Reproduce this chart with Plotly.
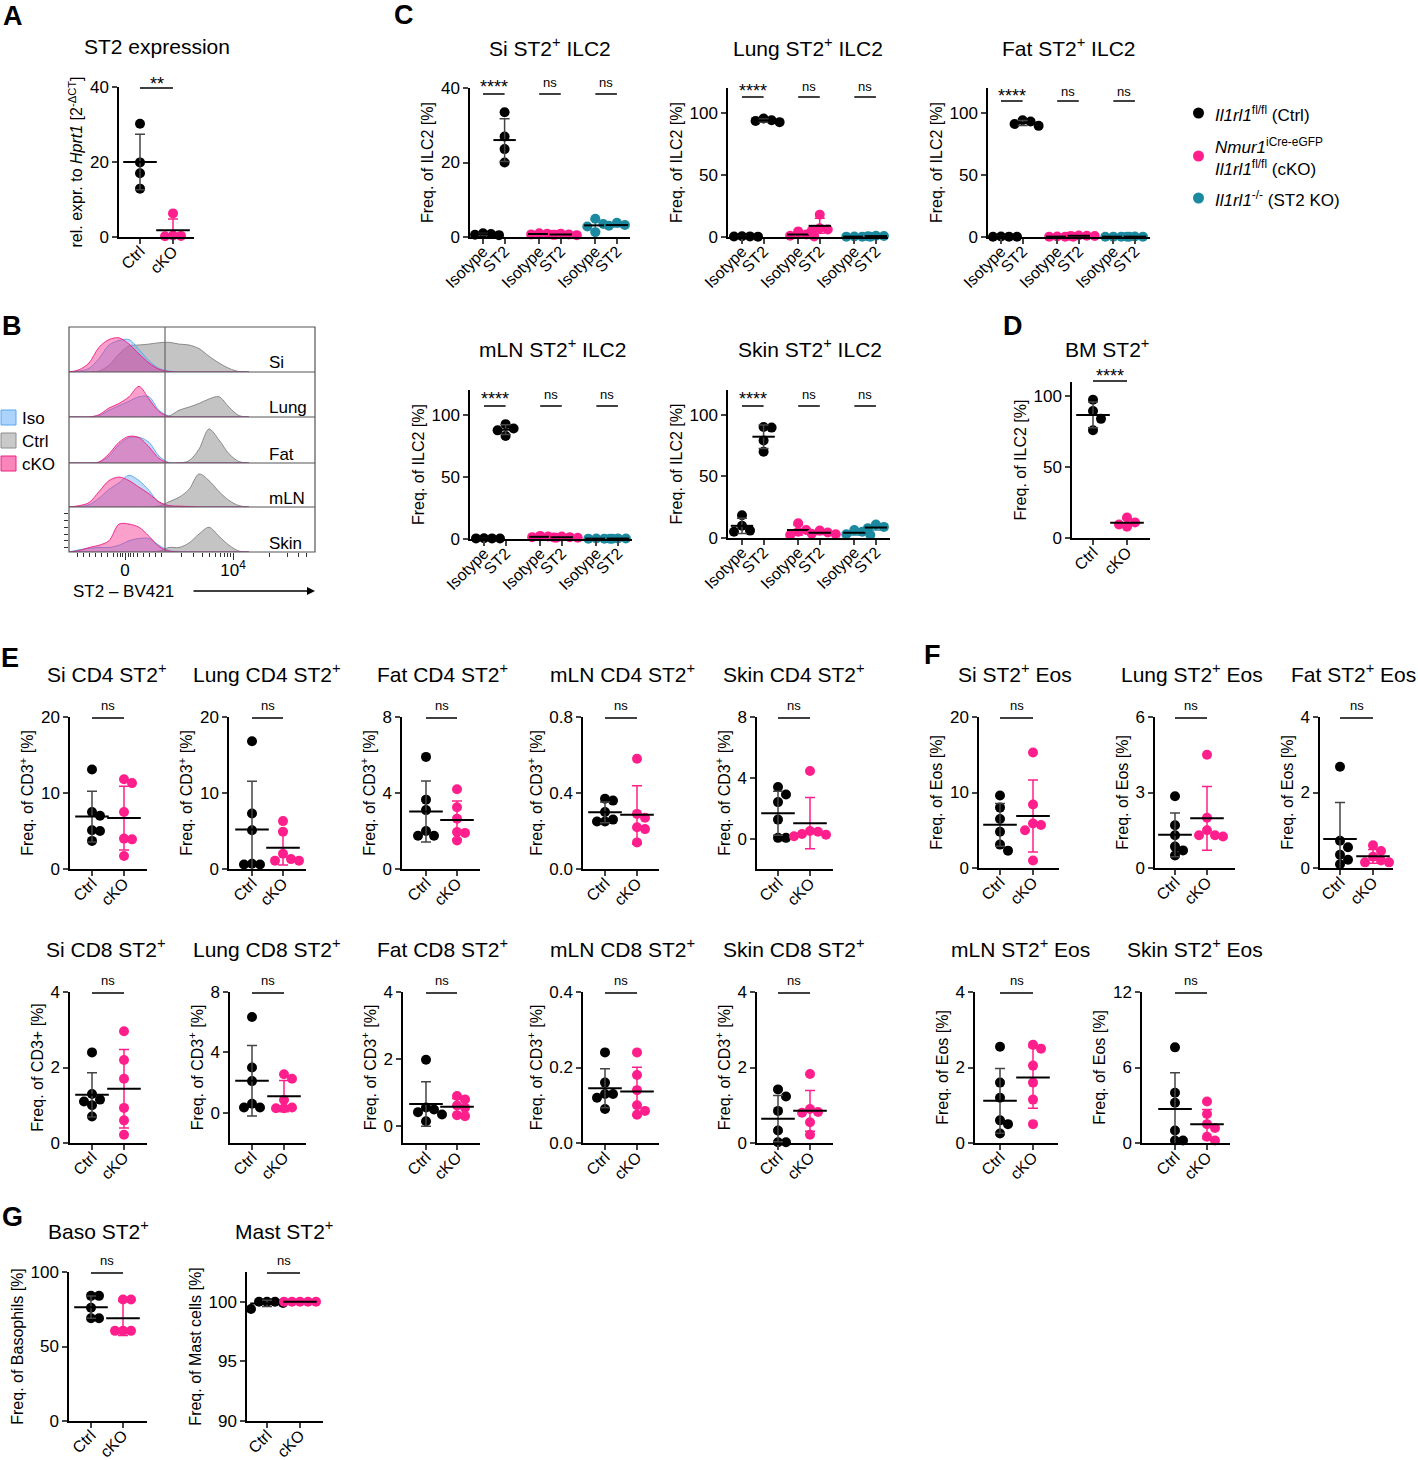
import numpy as np
import plotly.graph_objects as go

W, H = 1418, 1460
FONT = "Liberation Sans, Arial, Helvetica, sans-serif"
BLACK = "#000000"
PINK = "#ff1f8c"
TEAL = "#1b8aa0"
ERR_GREY = "#444444"

# ---------------- data ----------------
# A: ST2 expression (qPCR)
a_ctrl = [30.2, 19.9, 17.0, 12.9]
a_cko = [6.3, 0.4, 0.3, 0.2]

# C: ST2+ ILC2, groups = Ctrl iso, Ctrl ST2, cKO iso, cKO ST2, KO iso, KO ST2
c_cats = ["Isotype", "ST2", "Isotype", "ST2", "Isotype", "ST2"]
ilc2_si = [[0.5, 0.8, 1.0, 0.6], [33.5, 27.0, 23.6, 20.0], [0.6, 0.9, 1.0, 0.7],
           [0.5, 0.7, 0.9, 0.6], [4.9, 3.5, 2.8, 1.3], [3.8, 3.0, 3.2, 2.8]]
ilc2_lung = [[0.3, 0.5, 0.4, 0.6], [95.5, 94.0, 92.5, 93.5], [4.5, 2.0, 1.0, 0.5],
             [18.0, 7.0, 6.0, 5.0], [0.3, 0.2, 0.4, 0.3], [0.8, 0.5, 1.0, 0.6]]
ilc2_fat = [[0.2, 0.3, 0.2, 0.4], [94.0, 93.0, 91.0, 89.5], [0.3, 0.2, 0.4, 0.3],
            [1.0, 0.8, 1.2, 0.9], [0.2, 0.3, 0.2, 0.3], [0.3, 0.2, 0.4, 0.3]]
ilc2_mln = [[0.5, 0.4, 0.6, 0.5], [92.5, 89.0, 87.5, 83.0], [2.0, 1.5, 1.0, 2.5],
            [1.5, 1.0, 2.0, 1.2], [0.3, 0.2, 0.4, 0.3], [0.4, 0.3, 0.5, 0.3]]
ilc2_skin = [[18.5, 10.0, 6.0, 5.0], [90.0, 89.5, 79.0, 70.0], [12.0, 6.5, 5.0, 2.5],
             [6.0, 4.5, 3.5, 3.0], [6.5, 5.0, 3.0, 2.5], [11.0, 9.0, 8.0, 6.0]]

# D: bone marrow
bm_ctrl = [97.5, 89.5, 84.0, 76.0]
bm_cko = [14.5, 11.0, 9.5, 8.0]

# E: CD4 / CD8 ST2+
si_cd4_ctrl = [13.1, 7.5, 7.0, 5.1, 5.0, 3.7]
si_cd4_cko = [11.8, 11.3, 7.5, 4.0, 3.9, 1.7]
lung_cd4_ctrl = [16.8, 7.3, 5.1, 0.7, 0.6, 0.6]
lung_cd4_cko = [6.3, 4.9, 2.0, 1.3, 1.1, 1.1]
fat_cd4_ctrl = [5.9, 3.65, 3.1, 2.0, 1.75, 1.75]
fat_cd4_cko = [4.2, 3.25, 2.65, 1.95, 1.9, 1.5]
mln_cd4_ctrl = [0.37, 0.36, 0.30, 0.26, 0.25, 0.25]
mln_cd4_cko = [0.58, 0.29, 0.27, 0.22, 0.21, 0.14]
skin_cd4_ctrl = [3.4, 2.9, 2.4, 1.25, 0.05, 0.05]
skin_cd4_cko = [4.45, 0.5, 0.45, 0.3, 0.25, 0.15]

si_cd8_ctrl = [2.4, 1.3, 1.15, 1.1, 1.0, 0.7]
si_cd8_cko = [2.96, 2.2, 1.7, 0.93, 0.6, 0.22]
lung_cd8_ctrl = [6.35, 3.0, 2.1, 0.6, 0.35, 0.35]
lung_cd8_cko = [2.55, 2.25, 0.85, 0.35, 0.3, 0.3]
fat_cd8_ctrl = [1.98, 0.56, 0.5, 0.42, 0.35, 0.15]
fat_cd8_cko = [0.9, 0.8, 0.62, 0.55, 0.33, 0.3]
mln_cd8_ctrl = [0.24, 0.16, 0.13, 0.13, 0.12, 0.09]
mln_cd8_cko = [0.24, 0.18, 0.14, 0.10, 0.085, 0.075]
skin_cd8_ctrl = [1.42, 1.23, 0.85, 0.33, 0.02, 0.02]
skin_cd8_cko = [1.83, 0.9, 0.82, 0.8, 0.55, 0.22]

# F: eosinophils
si_eos_ctrl = [9.6, 8.0, 6.5, 4.8, 3.1, 2.3]
si_eos_cko = [15.3, 8.4, 5.9, 5.7, 5.0, 1.0]
lung_eos_ctrl = [2.85, 1.7, 1.3, 0.85, 0.7, 0.5]
lung_eos_cko = [4.5, 2.0, 1.5, 1.3, 1.3, 1.25]
fat_eos_ctrl = [2.68, 0.72, 0.55, 0.35, 0.22, 0.1]
fat_eos_cko = [0.6, 0.45, 0.3, 0.2, 0.15, 0.15]
mln_eos_ctrl = [2.55, 1.6, 1.2, 0.6, 0.5, 0.25]
mln_eos_cko = [2.6, 2.5, 2.05, 1.6, 1.15, 0.5]
skin_eos_ctrl = [7.6, 4.0, 3.2, 1.0, 0.2, 0.2]
skin_eos_cko = [3.3, 2.3, 1.5, 1.2, 0.5, 0.2]

# G: basophils / mast cells
baso_ctrl = [84.0, 84.0, 76.0, 69.0, 69.0]
baso_cko = [81.5, 81.5, 60.5, 60.5, 60.5]
mast_ctrl = [100.0, 100.0, 100.0, 99.9, 99.4]
mast_cko = [100.0, 100.0, 100.0, 100.0, 100.0]

# B: flow histograms (normalised height per row), common channel grid
hist_x = [0, 10, 20, 30, 40, 50, 60, 70, 80, 90, 100, 110, 120, 130, 140, 150, 160, 170, 180]
hist_tissues = ["Si", "Lung", "Fat", "mLN", "Skin"]
hist_iso = {
    "Si":   [0, 0.02, 0.08, 0.30, 0.60, 0.70, 0.72, 0.50, 0.25, 0.08, 0.02, 0, 0, 0, 0, 0, 0, 0, 0],
    "Lung": [0, 0, 0, 0.03, 0.15, 0.25, 0.35, 0.45, 0.45, 0.15, 0.02, 0, 0, 0, 0, 0, 0, 0, 0],
    "Fat":  [0, 0, 0, 0.02, 0.15, 0.40, 0.55, 0.56, 0.45, 0.15, 0.01, 0, 0, 0, 0, 0, 0, 0, 0],
    "mLN":  [0, 0.01, 0.05, 0.20, 0.40, 0.55, 0.72, 0.60, 0.38, 0.10, 0.03, 0, 0, 0, 0, 0, 0, 0, 0],
    "Skin": [0, 0.05, 0.08, 0.10, 0.10, 0.15, 0.25, 0.30, 0.30, 0.15, 0.03, 0.01, 0, 0, 0, 0, 0, 0, 0],
}
hist_ctrl = {
    "Si":   [0, 0, 0, 0.02, 0.15, 0.40, 0.58, 0.60, 0.62, 0.65, 0.66, 0.62, 0.60, 0.52, 0.35, 0.20, 0.08, 0.01, 0],
    "Lung": [0, 0, 0, 0, 0, 0, 0, 0, 0, 0.01, 0.02, 0.15, 0.22, 0.30, 0.40, 0.45, 0.22, 0.03, 0],
    "Fat":  [0, 0, 0, 0, 0, 0, 0, 0, 0, 0, 0, 0, 0.05, 0.30, 0.74, 0.50, 0.20, 0.03, 0],
    "mLN":  [0, 0, 0, 0, 0, 0, 0, 0, 0, 0.02, 0.12, 0.22, 0.40, 0.75, 0.60, 0.35, 0.15, 0.03, 0],
    "Skin": [0, 0, 0, 0, 0, 0, 0, 0, 0, 0.02, 0.10, 0.10, 0.20, 0.40, 0.55, 0.35, 0.15, 0.02, 0],
}
hist_cko = {
    "Si":   [0, 0.05, 0.20, 0.55, 0.72, 0.76, 0.62, 0.40, 0.20, 0.06, 0.01, 0, 0, 0, 0, 0, 0, 0, 0],
    "Lung": [0, 0, 0, 0.05, 0.20, 0.30, 0.45, 0.68, 0.40, 0.12, 0.01, 0, 0, 0, 0, 0, 0, 0, 0],
    "Fat":  [0, 0, 0, 0.02, 0.20, 0.45, 0.58, 0.55, 0.35, 0.10, 0, 0, 0, 0, 0, 0, 0, 0, 0],
    "mLN":  [0, 0.03, 0.10, 0.35, 0.60, 0.68, 0.60, 0.45, 0.30, 0.12, 0.03, 0.02, 0.01, 0, 0, 0, 0, 0, 0],
    "Skin": [0, 0.03, 0.10, 0.15, 0.25, 0.62, 0.62, 0.55, 0.35, 0.12, 0.02, 0, 0, 0, 0, 0, 0, 0, 0],
}

# ---------------- helpers ----------------
def fx(x):
    return x / W


def fy(y):
    return 1 - y / H


fig = go.Figure()
layout_axes = {}
shapes = []
annotations = []
axis_count = [0]


def new_axes():
    axis_count[0] += 1
    s = "" if axis_count[0] == 1 else str(axis_count[0])
    return "x" + s, "y" + s, "xaxis" + s, "yaxis" + s


def text(x, y, s, size=15, xanchor="center", yanchor="middle", **kw):
    annotations.append(dict(x=fx(x), y=fy(y), xref="paper", yref="paper", text=s,
                            xanchor=xanchor, yanchor=yanchor, showarrow=False,
                            font=dict(size=size, color="black", family=FONT), **kw))


def swarm(vals, center, ppu, step=8.0):
    """Spread tied points sideways (pixel units), Prism-style."""
    placed, xs = [], [0.0] * len(vals)
    for i in sorted(range(len(vals)), key=lambda k: -vals[k]):
        yp = vals[i] * ppu
        for k in (0, 1, -1, 2, -2, 3, -3, 4, -4):
            xp = k * step
            if all((xp - a) ** 2 + (yp - b) ** 2 >= step ** 2 - 1e-6 for a, b in placed):
                break
        placed.append((xp, yp))
        xs[i] = center + xp
    return xs


def dot_panel(box, cats, labels, groups, colors, yr, yt, ylab, title, sig,
              sig_dv, sig_dl, tickfmt=None, mean_w=24):
    ax0, top, ax1, bot = box
    xa, ya, xk, yk = new_axes()
    ppu = (bot - top) / (yr[1] - yr[0])
    for pos, vals, col in zip(cats, groups, colors):
        fig.add_trace(go.Scatter(
            x=swarm(vals, pos, ppu), y=vals, mode="markers", xaxis=xa, yaxis=ya,
            marker=dict(size=10, color=col), cliponaxis=False, showlegend=False,
            hoverinfo="y"))
        fig.add_trace(go.Scatter(
            x=[pos], y=[float(np.mean(vals))], mode="markers", xaxis=xa, yaxis=ya,
            marker=dict(symbol="line-ew", size=mean_w, line=dict(width=2, color=BLACK)),
            error_y=dict(type="data", array=[float(np.std(vals, ddof=1))], visible=True,
                         color=ERR_GREY if col == BLACK else col, thickness=1.5, width=5),
            cliponaxis=False, showlegend=False, hoverinfo="skip"))
    ticktext = None
    if tickfmt:
        ticktext = [format(v, tickfmt) for v in yt]
    layout_axes[xk] = dict(domain=[fx(ax0), fx(ax1)], range=[ax0, ax1], anchor=ya,
                           showline=True, linecolor="black", linewidth=1.5, ticks="outside",
                           ticklen=5, tickwidth=1.5, tickvals=cats, ticktext=labels,
                           tickangle=-45, tickfont=dict(size=16), ticklabelstandoff=-8,
                           showgrid=False, zeroline=False, automargin=False, fixedrange=True)
    layout_axes[yk] = dict(domain=[fy(bot), fy(top)], range=yr, anchor=xa,
                           showline=True, linecolor="black", linewidth=1.5, ticks="outside",
                           ticklen=5, tickwidth=1.5, tickvals=yt, ticktext=ticktext,
                           tickfont=dict(size=17), showgrid=False, zeroline=False,
                           automargin=False, fixedrange=True,
                           title=dict(text=ylab, font=dict(size=16), standoff=3))
    text(title[1], title[2], title[0], size=21)
    for s, i, j in sig:
        shapes.append(dict(type="line", xref="paper", yref="paper",
                           x0=fx(cats[i]), x1=fx(cats[j]), y0=fy(top + sig_dl), y1=fy(top + sig_dl),
                           line=dict(color="black", width=1.5)))
        if "*" in s:
            text((cats[i] + cats[j]) / 2, top + sig_dv + 4, s, size=18)
        else:
            text((cats[i] + cats[j]) / 2, top + sig_dv - 1, s, size=13)


def two(c0, c1):
    return [c0, c1]


def six(c0, u=21.6):
    return [c0 + u * p for p in (0, 1, 2.6, 3.6, 5.2, 6.2)]


CK = ["Ctrl", "cKO"]
ILC = "Freq. of ILC2 [%]"
CD3 = "Freq. of CD3<sup>+</sup> [%]"
EOS = "Freq. of Eos [%]"
C6 = [BLACK, BLACK, PINK, PINK, TEAL, TEAL]
C2 = [BLACK, PINK]
SIG_C = [("****", 0, 1), ("ns", 2, 3), ("ns", 4, 5)]
NS = [("ns", 0, 1)]

# ---------------- panel A ----------------
dot_panel((119, 87, 194, 237), two(140, 173), CK, [a_ctrl, a_cko], C2, [0, 40], [0, 20, 40],
          "rel. expr. to <i>Hprt1</i> [2<sup>-ΔCT</sup>]", ("ST2 expression", 157, 47),
          [("**", 0, 1)], -7, 1)

# ---------------- panel C ----------------
dot_panel((470, 88, 630, 237), six(483), c_cats, ilc2_si, C6, [0, 40], [0, 20, 40], ILC,
          ("Si ST2<sup>+</sup> ILC2", 550, 47), SIG_C, -5, 6, mean_w=16)
dot_panel((728, 88, 888, 237), six(742), c_cats, ilc2_lung, C6, [0, 120], [0, 50, 100], ILC,
          ("Lung ST2<sup>+</sup> ILC2", 808, 47), SIG_C, -1, 9, mean_w=16)
dot_panel((988, 88, 1150, 237), six(1001), c_cats, ilc2_fat, C6, [0, 120], [0, 50, 100], ILC,
          ("Fat ST2<sup>+</sup> ILC2", 1068, 47), SIG_C, 4, 13, mean_w=16)
dot_panel((470, 390, 632, 539), six(484), c_cats, ilc2_mln, C6, [0, 120], [0, 50, 100], ILC,
          ("mLN ST2<sup>+</sup> ILC2", 552, 348), SIG_C, 5, 16, mean_w=16)
dot_panel((728, 390, 890, 538), six(742), c_cats, ilc2_skin, C6, [0, 120], [0, 50, 100], ILC,
          ("Skin ST2<sup>+</sup> ILC2", 810, 348), SIG_C, 5, 16, mean_w=16)

# ---------------- panel D ----------------
dot_panel((1072, 382, 1150, 538), two(1093, 1127), CK, [bm_ctrl, bm_cko], C2, [0, 110], [0, 50, 100],
          ILC, ("BM ST2<sup>+</sup>", 1107, 348), [("****", 0, 1)], -10, -1)

# ---------------- panel E ----------------
e_rows = [
    ((70, 717, 147, 869), two(92, 124), [si_cd4_ctrl, si_cd4_cko], [0, 20], [0, 10, 20], CD3, ("Si CD4 ST2<sup>+</sup>", 107, 673), None),
    ((229, 717, 306, 869), two(252, 283), [lung_cd4_ctrl, lung_cd4_cko], [0, 20], [0, 10, 20], CD3, ("Lung CD4 ST2<sup>+</sup>", 267, 673), None),
    ((402, 717, 480, 869), two(426, 457), [fat_cd4_ctrl, fat_cd4_cko], [0, 8], [0, 4, 8], CD3, ("Fat CD4 ST2<sup>+</sup>", 442, 673), None),
    ((583, 717, 659, 869), two(605, 637), [mln_cd4_ctrl, mln_cd4_cko], [0, 0.8], [0, 0.4, 0.8], CD3, ("mLN CD4 ST2<sup>+</sup>", 622, 673), ".1f"),
    ((757, 717, 833, 869), two(778, 810), [skin_cd4_ctrl, skin_cd4_cko], [-2, 8], [0, 4, 8], CD3, ("Skin CD4 ST2<sup>+</sup>", 794, 673), None),
    ((70, 992, 147, 1143), two(92, 124), [si_cd8_ctrl, si_cd8_cko], [0, 4], [0, 2, 4], "Freq. of CD3+ [%]", ("Si CD8 ST2<sup>+</sup>", 106, 948), None),
    ((230, 992, 306, 1143), two(252, 284), [lung_cd8_ctrl, lung_cd8_cko], [-2, 8], [0, 4, 8], CD3, ("Lung CD8 ST2<sup>+</sup>", 267, 948), None),
    ((403, 992, 480, 1143), two(426, 457), [fat_cd8_ctrl, fat_cd8_cko], [-0.5, 4], [0, 2, 4], CD3, ("Fat CD8 ST2<sup>+</sup>", 442, 948), None),
    ((583, 992, 659, 1143), two(605, 637), [mln_cd8_ctrl, mln_cd8_cko], [0, 0.4], [0, 0.2, 0.4], CD3, ("mLN CD8 ST2<sup>+</sup>", 622, 948), ".1f"),
    ((757, 992, 833, 1143), two(778, 810), [skin_cd8_ctrl, skin_cd8_cko], [0, 4], [0, 2, 4], CD3, ("Skin CD8 ST2<sup>+</sup>", 794, 948), None),
    # ---------------- panel F ----------------
    ((979, 717, 1059, 868), two(1000, 1033), [si_eos_ctrl, si_eos_cko], [0, 20], [0, 10, 20], EOS, ("Si ST2<sup>+</sup> Eos", 1015, 673), None),
    ((1155, 717, 1235, 868), two(1175, 1207), [lung_eos_ctrl, lung_eos_cko], [0, 6], [0, 3, 6], EOS, ("Lung ST2<sup>+</sup> Eos", 1192, 673), None),
    ((1320, 717, 1393, 868), two(1340, 1373), [fat_eos_ctrl, fat_eos_cko], [0, 4], [0, 2, 4], EOS, ("Fat ST2<sup>+</sup> Eos", 1353, 673), None),
    ((975, 992, 1058, 1143), two(1000, 1033), [mln_eos_ctrl, mln_eos_cko], [0, 4], [0, 2, 4], EOS, ("mLN ST2<sup>+</sup> Eos", 1020, 948), None),
    ((1142, 992, 1230, 1143), two(1175, 1207), [skin_eos_ctrl, skin_eos_cko], [0, 12], [0, 6, 12], EOS, ("Skin ST2<sup>+</sup> Eos", 1195, 948), None),
    # ---------------- panel G ----------------
    ((69, 1272, 147, 1421), two(91, 123), [baso_ctrl, baso_cko], [0, 100], [0, 50, 100], "Freq. of Basophils [%]", ("Baso ST2<sup>+</sup>", 98, 1230), None),
    ((247, 1272, 323, 1421), two(267, 300), [mast_ctrl, mast_cko], [90, 102.5], [90, 95, 100], "Freq. of Mast cells [%]", ("Mast ST2<sup>+</sup>", 284, 1230), None),
]
for box, cats, grp, yr, yt, ylab, title, fmt in e_rows:
    dot_panel(box, cats, CK, grp, C2, yr, yt, ylab, title, NS, -11, 1, tickfmt=fmt)

# ---------------- panel B: histograms ----------------
row_px = [(327, 372), (372, 417), (417, 463), (463, 507), (507, 552)]
row_axes = []
hx = hxk = None
for k, (t, b) in enumerate(row_px):
    xa, ya, xk, yk = new_axes()
    if k == 0:
        hx, hxk = xa, xk
    row_axes.append(ya)
    layout_axes[yk] = dict(domain=[fy(b), fy(t)], range=[0, 1], anchor=hx, showgrid=False,
                           zeroline=False, showticklabels=False, automargin=False,
                           ticks="outside" if k == 4 else "", ticklen=4, tickwidth=1,
                           tickcolor="#333", tickvals=[0.1, 0.25, 0.4, 0.55, 0.7, 0.85] if k == 4 else None,
                           fixedrange=True)
hist_style = [
    (hist_ctrl, "rgba(165,165,165,0.65)", "rgba(130,130,130,0.9)"),
    (hist_iso, "rgba(110,175,240,0.45)", "rgba(90,165,240,0.9)"),
    (hist_cko, "rgba(245,45,140,0.45)", "rgba(240,30,130,0.9)"),
]
for tissue, ya in zip(hist_tissues, row_axes):
    for data, fill, line in hist_style:
        fig.add_trace(go.Scatter(x=hist_x, y=data[tissue], xaxis=hx, yaxis=ya, mode="lines",
                                 line=dict(color=line, width=1, shape="spline", smoothing=0.9),
                                 fill="tozeroy", fillcolor=fill, showlegend=False, hoverinfo="skip"))
layout_axes[hxk] = dict(domain=[fx(69), fx(315)], range=[0, 246], anchor=row_axes[-1],
                        showgrid=False, zeroline=False, showline=False, automargin=False,
                        ticks="outside", ticklen=7, tickwidth=1.2, tickcolor="#333",
                        tickvals=[56, 164], ticktext=["0", "10<sup>4</sup>"], tickfont=dict(size=17),
                        ticklabelstandoff=-4,
                        minor=dict(ticks="outside", ticklen=4, tickwidth=1, tickcolor="#333",
                                   tickvals=[8, 14, 20, 26, 32, 38, 44, 48, 51, 53, 59, 61, 64, 68,
                                             74, 80, 86, 92, 112, 124, 133, 140, 146, 151, 155, 158,
                                             161, 200, 218, 229, 237]),
                        fixedrange=True)
box_line = dict(color="#555555", width=1.2)
shapes.append(dict(type="rect", xref="paper", yref="paper", x0=fx(69), x1=fx(315),
                   y0=fy(552), y1=fy(327), line=box_line))
for t, b in row_px[1:]:
    shapes.append(dict(type="line", xref="paper", yref="paper", x0=fx(69), x1=fx(315),
                       y0=fy(t), y1=fy(t), line=box_line))
shapes.append(dict(type="line", xref="paper", yref="paper", x0=fx(165), x1=fx(165),
                   y0=fy(552), y1=fy(327), line=dict(color="#666666", width=1.2)))
for tissue, (t, b) in zip(hist_tissues, row_px):
    text(267, b - 9, tissue, size=17, xanchor="left")
text(123, 591, "ST2 – BV421", size=17)
annotations.append(dict(x=fx(315), y=fy(591), xref="paper", yref="paper", ax=-123, ay=0,
                        showarrow=True, arrowhead=2, arrowsize=1, arrowwidth=1.6,
                        arrowcolor="black", text=""))
for name, y0, fill, line in [("Iso", 410, "rgba(150,200,250,0.8)", "rgba(90,165,240,1)"),
                             ("Ctrl", 433, "rgba(195,195,195,0.9)", "rgba(140,140,140,1)"),
                             ("cKO", 456, "rgba(250,120,180,0.9)", "rgba(240,30,130,1)")]:
    shapes.append(dict(type="rect", xref="paper", yref="paper", x0=fx(1), x1=fx(16),
                       y0=fy(y0 + 15), y1=fy(y0), fillcolor=fill, line=dict(color=line, width=1)))
    text(20, y0 + 8, name, size=17, xanchor="left")

# ---------------- legend for C ----------------
for cy, col, lab in [(113, BLACK, "<i>Il1rl1</i><sup>fl/fl</sup> (Ctrl)"),
                     (156, PINK, "<i>Nmur1</i><sup>iCre-eGFP</sup><br><i>Il1rl1</i><sup>fl/fl</sup> (cKO)"),
                     (198, TEAL, "<i>Il1rl1</i><sup>-/-</sup> (ST2 KO)")]:
    shapes.append(dict(type="circle", xref="paper", yref="paper", x0=fx(1193), x1=fx(1204),
                       y0=fy(cy + 5.5), y1=fy(cy - 5.5), fillcolor=col, line=dict(width=0)))
    text(1213, cy + 1, lab, size=17, xanchor="left", align="left")

# ---------------- panel letters ----------------
for s, x, y in [("A", 13, 16), ("B", 12, 326), ("C", 404, 15), ("D", 1013, 326),
                ("E", 10, 658), ("F", 932, 655), ("G", 12, 1217)]:
    text(x, y, "<b>%s</b>" % s, size=27)

fig.update_layout(
    width=W, height=H, margin=dict(l=0, r=0, t=0, b=0),
    paper_bgcolor="white", plot_bgcolor="rgba(0,0,0,0)",
    font=dict(family=FONT, color="black", size=15),
    showlegend=False, shapes=shapes, annotations=annotations,
    **layout_axes,
)
# the page's default body margin would push the figure 8px down/right
fig.write_html("out.html", config={"displayModeBar": False},
               post_script="document.body.style.margin='0px';")
